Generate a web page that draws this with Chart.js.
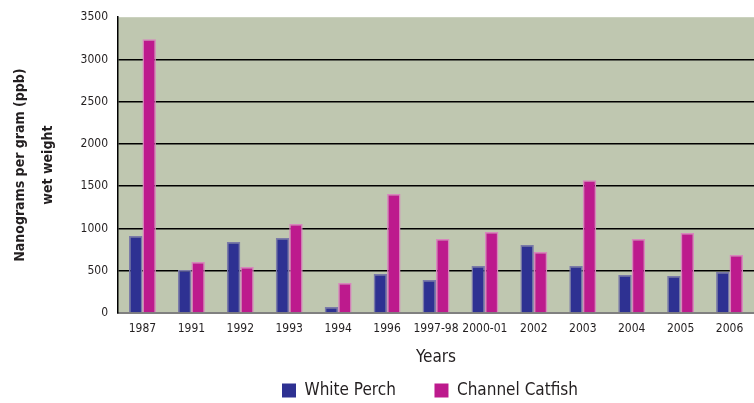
<!DOCTYPE html>
<html>
<head>
<meta charset="utf-8">
<script src="https://cdn.jsdelivr.net/npm/chart.js@4/dist/chart.umd.min.js"></script>
<style>
html,body{margin:0;padding:0;background:#fff;}
#wrap{width:754px;height:403px;position:relative;}
</style>
</head>
<body>
<div id="wrap"><canvas id="c" width="754" height="403"></canvas></div>
<script>
const categories = ['1987','1991','1992','1993','1994','1996','1997-98','2000-01','2002','2003','2004','2005','2006'];
const whitePerch = [910, 508, 840, 886, 71, 461, 390, 555, 804, 555, 449, 437, 485];
const channelCatfish = [3240, 603, 544, 1052, 355, 1407, 875, 957, 721, 1572, 875, 946, 686];
const yTicks = [0, 500, 1000, 1500, 2000, 2500, 3000, 3500];

const FONT = "'Liberation Sans Narrow', 'DejaVu Sans Condensed', 'Open Sans', sans-serif";

const plotBg = {
  id: 'plotBg',
  beforeDraw(chart) {
    const {ctx, chartArea: a} = chart;
    ctx.save();
    ctx.fillStyle = '#bfc7b0';
    ctx.fillRect(a.left, a.top, a.right - a.left, a.bottom - a.top);
    ctx.restore();
  }
};

const legendShift = {
  id: 'legendShift',
  afterLayout(chart) {
    const lg = chart.legend;
    if (lg) { lg.left += 53; lg.right += 53; lg.top += 6; lg.bottom += 6; }
  }
};

new Chart(document.getElementById('c'), {
  type: 'bar',
  data: {
    labels: categories,
    datasets: [
      { label: 'White Perch', data: whitePerch, backgroundColor: '#2e3192', borderColor: '#7a7aa8', borderWidth: 1.5, borderSkipped: 'bottom' },
      { label: 'Channel Catfish', data: channelCatfish, backgroundColor: '#bd1a8d', borderColor: '#d886bd', borderWidth: 1.5, borderSkipped: 'bottom' }
    ]
  },
  options: {
    responsive: false,
    animation: false,
    layout: { padding: { left: 0, right: 0, top: 16, bottom: 0 } },
    datasets: { bar: { categoryPercentage: 0.55, barPercentage: 1.0 } },
    plugins: {
      legend: {
        position: 'bottom',
        labels: {
          color: '#231f20',
          font: { family: FONT, size: 17 },
          boxWidth: 14, boxHeight: 14,
          padding: 8,
          generateLabels(chart) {
            const items = Chart.defaults.plugins.legend.labels.generateLabels(chart);
            items.forEach((it, i) => {
              it.lineWidth = 0;
              if (i === 0) it.text = it.text + '\u2003\u2003';
            });
            return items;
          }
        }
      },
      tooltip: { enabled: false }
    },
    scales: {
      x: {
        grid: { display: false },
        border: { color: '#808080', width: 2 },
        ticks: { color: '#231f20', font: { family: FONT, size: 12 }, padding: 1, maxRotation: 0, autoSkip: false },
        title: { display: true, text: 'Years', color: '#231f20', font: { family: FONT, size: 17 }, padding: { top: 5, bottom: 0 } },
        afterFit(s) { s.height = 55; }
      },
      y: {
        min: 0, max: 3500,
        afterBuildTicks(s) { s.ticks = yTicks.map(v => ({ value: v })); },
        grid: {
          drawTicks: false,
          lineWidth: 1.5,
          color(ctx) {
            const v = ctx.tick && ctx.tick.value;
            if (v === 0 || v === 3500) return 'rgba(0,0,0,0)';
            return '#000000';
          }
        },
        border: { color: '#000000', width: 1.5 },
        ticks: { color: '#231f20', font: { family: FONT, size: 12 }, padding: 10, callback: v => String(v) },
        title: {
          display: true,
          text: ['Nanograms per gram (ppb)', 'wet weight'],
          color: '#231f20',
          font: { family: FONT, size: 14, weight: 'bold', lineHeight: 2.0 },
          padding: { top: 6, bottom: 8 }
        },
        afterFit(s) { s.width = 118; }
      }
    }
  },
  plugins: [plotBg, legendShift]
});
</script>
</body>
</html>
